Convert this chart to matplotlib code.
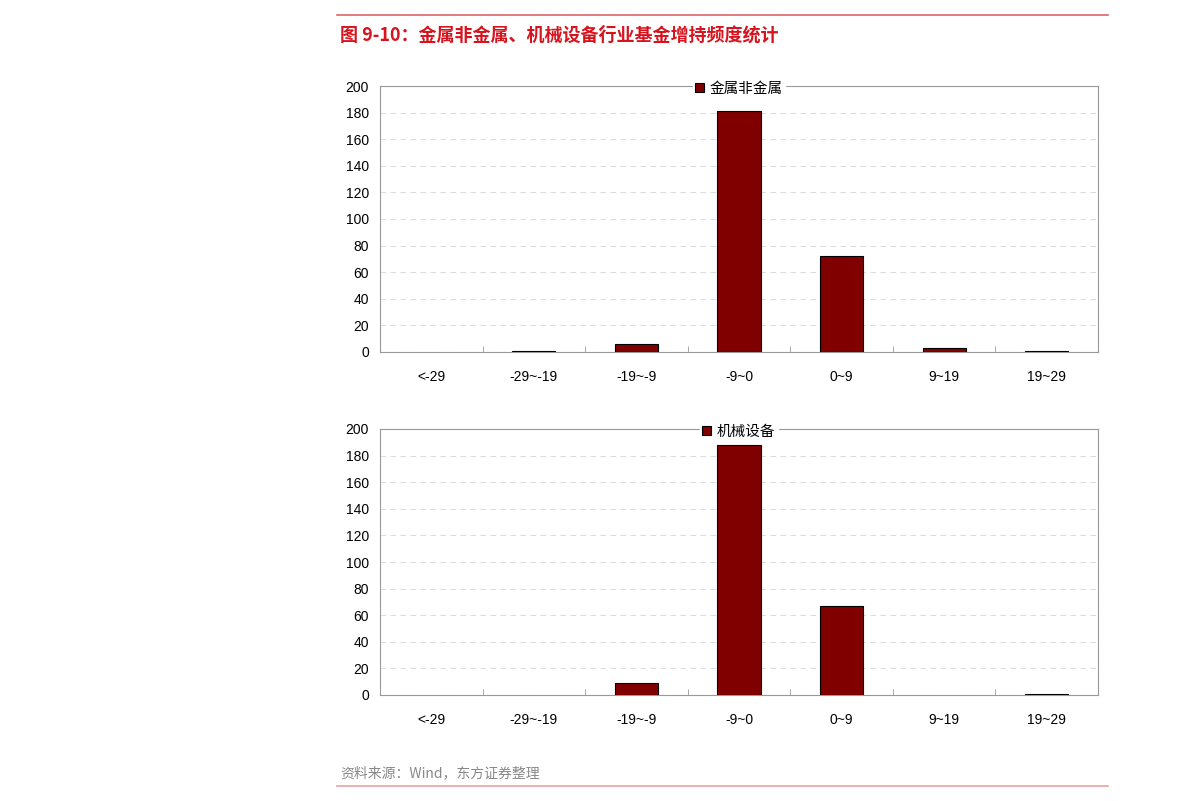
"""Fund holding-frequency bar charts: metals vs machinery (two stacked panels)."""
import matplotlib
matplotlib.use("Agg")
import matplotlib.pyplot as plt
from matplotlib.lines import Line2D
from matplotlib.patches import Patch
import numpy as np

plt.rcParams['font.family'] = ['Liberation Sans', 'Noto Sans CJK SC', 'DejaVu Sans']

categories = ["<-29", "-29~-19", "-19~-9", "-9~0", "0~9", "9~19", "19~29"]
metals = [0, 1, 6, 181, 72, 3, 1]
machinery = [0, 0, 9, 188, 67, 0, 1]
series_names = ["金属非金属", "机械设备"]

title = "图 9-10：金属非金属、机械设备行业基金增持频度统计"
source = "资料来源：Wind，东方证券整理"

BAR = "#800000"
RED = "#d7141e"
CJK = ['Noto Sans CJK SC', 'DejaVu Sans']

fig = plt.figure(figsize=(11.9, 8.01), dpi=100)

# header rule + title
fig.add_artist(Line2D([337 / 1190, 1108 / 1190], [1 - 15 / 801] * 2,
                      color="#e06666", lw=1.2))
fig.text(340 / 1190, 1 - 35 / 801, title, color=RED, fontsize=13,
         fontweight="bold", va="center", ha="left", family=CJK)
# footer
fig.text(340 / 1190, 1 - 773 / 801, source, color="#888888", fontsize=10,
         va="center", ha="left", family=CJK)
fig.add_artist(Line2D([337 / 1190, 1108 / 1190], [1 - 786 / 801] * 2,
                      color="#f0a0a0", lw=1.2))

left, width = 380 / 1190, 718 / 1190
panels = [(1 - 352 / 801, metals, series_names[0]),
          (1 - 695 / 801, machinery, series_names[1])]
height = 266 / 801

x = np.arange(len(categories))
for bottom, vals, name in panels:
    ax = fig.add_axes([left, bottom, width, height])
    edges = ["black" if v > 0 else "none" for v in vals]
    ax.bar(x, vals, width=0.42, color=BAR, edgecolor=edges, linewidth=0.8,
           zorder=3)
    ax.set_xlim(-0.5, len(categories) - 0.5)
    ax.set_ylim(0, 200)
    ax.set_yticks(range(0, 201, 20))
    ax.yaxis.grid(True, color="#dddddd", linestyle=(0, (5, 4)), lw=0.8, zorder=0)
    ax.set_axisbelow(True)
    for s in ax.spines.values():
        s.set_color("#999999")
        s.set_linewidth(0.8)
    # category labels centred, ticks at boundaries
    ax.set_xticks(x)
    ax.set_xticklabels(categories, fontsize=10)
    ax.tick_params(axis="x", length=0, pad=13)
    ax.set_xticks(np.arange(len(categories) + 1) - 0.5, minor=True)
    ax.tick_params(axis="x", which="minor", direction="in", length=4,
                   color="#999999")
    ax.tick_params(axis="y", length=0, labelsize=10, pad=8)
    leg = ax.legend(handles=[Patch(facecolor=BAR, edgecolor="black", lw=0.8,
                                   label=name)],
                    loc="center", bbox_to_anchor=(0.5, 0.99), frameon=True,
                    handlelength=0.6, handleheight=0.6, handletextpad=0.4,
                    borderpad=0.15, prop={'family': CJK, 'size': 10.5})
    leg.get_frame().set_edgecolor("white")
    leg.get_frame().set_facecolor("white")
    leg.get_frame().set_alpha(1)

fig.savefig("out.png", dpi=100)
